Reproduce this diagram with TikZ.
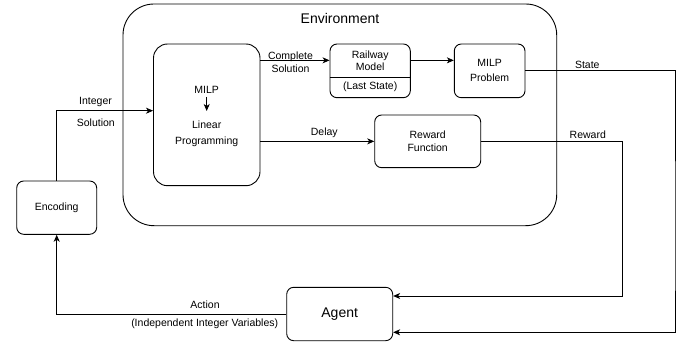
\documentclass[tikz,border=0pt]{standalone}
\usepackage{fontspec}
\setmainfont{Liberation Sans}
\usetikzlibrary{arrows.meta}
\begin{document}
\begin{tikzpicture}[x=1pt,y=-1pt,
  line width=0.9pt,
  box/.style={draw,rounded corners=7pt,align=center,inner sep=0pt,
    font=\fontsize{10.5}{13}\selectfont},
  lbl/.style={inner sep=0pt,align=center,font=\fontsize{10.5}{13}\selectfont},
  arr/.style={-{Stealth[length=7pt,width=6pt,inset=2pt]}}]
\useasboundingbox (0,0) rectangle (691,342);
% environment
\node[draw,rounded corners=31pt,minimum width=433.7pt,minimum height=221.7pt,inner sep=0pt]
  (env) at (339.85,114.85) {};
\node[inner sep=0pt,font=\fontsize{14}{16}\selectfont] (envt) at (340,18) {Environment};
% boxes
\node[box,rounded corners=14pt,minimum width=106.5pt,minimum height=141.7pt] (milp) at (206.75,114.85) {};
\node[lbl] (mt) at (206.7,90) {MILP};
\node[lbl] (lp) at (206.7,134) {Linear\\[3.5pt]Programming};
\draw[arr] (206.7,97) -- (206.7,111);
\node[box,minimum width=80.3pt,minimum height=53.7pt] (rw) at (370.15,70.85) {};
\node[lbl,minimum width=80.3pt,minimum height=32.7pt] (rwtop) at (370.15,60.35) {Railway\\[-1pt]Model};
\node[lbl,minimum width=80.3pt,minimum height=21pt] (rwbot) at (370.15,87.2) {(Last State)};
\draw (rwtop.south west) -- (rwtop.south east);
\node[box,minimum width=70.7pt,minimum height=53.7pt] (mp) at (489.65,70.85) {MILP\\[2pt]Problem};
\node[box,minimum width=106pt,minimum height=52.7pt] (rf) at (427.7,141.35) {Reward\\Function};
\node[box,minimum width=80pt,minimum height=53.3pt] (enc) at (56.7,207.65) {Encoding};
\node[box,minimum width=106pt,minimum height=53.4pt,font=\fontsize{14}{16}\selectfont] (agent) at (339.7,314) {Agent};
% connectors
\coordinate (sR) at (622.7,250);
\coordinate (sS) at (675,250);
\draw[arr] (enc.north) |- ([yshift=4.15pt]milp.west);
\draw[arr] (milp.east |- rwtop.west) -- (rwtop.west);
\draw[arr] (rwtop.east) -- (mp.west |- rwtop.east);
\draw[arr] (milp.east |- rf.west) -- (rf.west);
\draw[arr] (mp.east) -| (sS) |- ([yshift=-18.3pt]agent.east);
\draw[arr] (rf.east) -| (sR) |- ([yshift=18pt]agent.east);
\draw[arr] (agent.west) -| (enc.south);
% labels
\node[lbl] (lint) at (95.5,101.7) {Integer};
\node[lbl] (lsol) at (95.8,122.7) {Solution};
\node[lbl] (lcs) at (290.5,62.3) {Complete\\Solution};
\node[lbl] (ldel) at (324.3,132.7) {Delay};
\node[lbl] (lst) at (587.3,65) {State};
\node[lbl] (lrew) at (587.8,134.3) {Reward};
\node[lbl] (lact) at (205,305) {Action};
\node[lbl] (liv) at (204.7,323.3) {(Independent Integer Variables)};
\end{tikzpicture}
\end{document}
